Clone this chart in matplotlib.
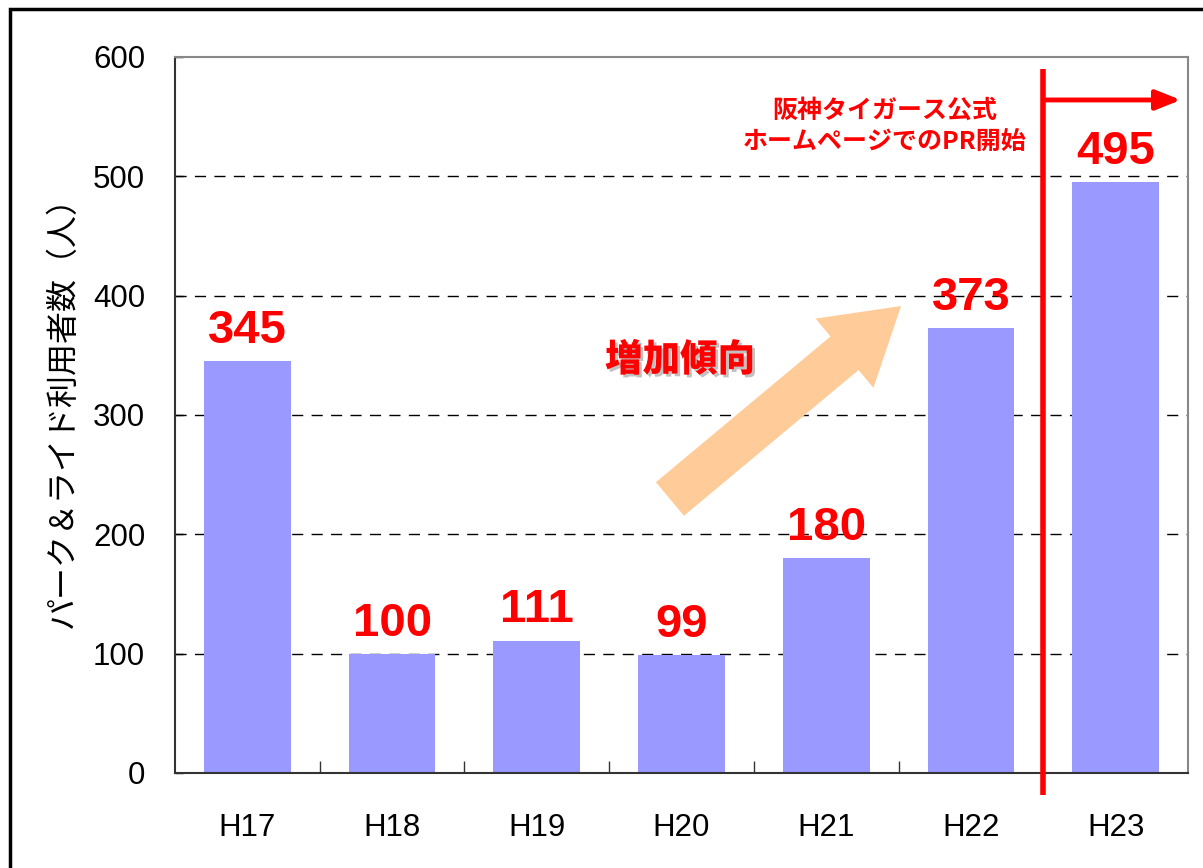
"""
パーク＆ライド利用者数の推移グラフ
"""

import matplotlib
matplotlib.use("Agg")
import matplotlib.pyplot as plt
import matplotlib.patheffects as pe
from matplotlib.patches import FancyArrowPatch, Rectangle

plt.rcParams["font.family"] = ["Liberation Sans", "Noto Sans CJK JP", "DejaVu Sans"]

# データ
years = ["H17", "H18", "H19", "H20", "H21", "H22", "H23"]
users = [345, 100, 111, 99, 180, 373, 495]
y_ticks = [0, 100, 200, 300, 400, 500, 600]

ylabel_text = "パーク＆ライド利用者数（人）"
pr_text = "阪神タイガース公式\nホームページでのPR開始"
trend_text = "増加傾向"

fig = plt.figure(figsize=(12.03, 8.68), dpi=100)
ax = fig.add_axes([175 / 1203, 1 - 773 / 868, 1013 / 1203, 716 / 868])

x = list(range(len(years)))
ax.bar(x, users, width=0.6, color="#9999FF", zorder=2)

ax.set_xlim(-0.5, len(years) - 0.5)
ax.set_ylim(0, 600)
ax.set_yticks(y_ticks)
ax.set_xticks(x)
ax.set_xticklabels(years)
ax.set_xticks([i + 0.5 for i in x[:-1]], minor=True)
ax.tick_params(axis="x", which="major", length=0, pad=29, labelsize=22.5)
ax.tick_params(axis="x", which="minor", direction="in", length=9, width=1, color="#333333")
ax.tick_params(axis="y", direction="in", length=6, width=1, pad=21.5, labelsize=22.5)

# グリッド (破線)
for v in y_ticks[1:-1]:
    ax.axhline(v, color="black", lw=1, ls=(0, (8, 6)), zorder=1)

for side in ["top", "right"]:
    ax.spines[side].set_color("#888888")
    ax.spines[side].set_linewidth(1.5)
for side in ["left", "bottom"]:
    ax.spines[side].set_color("#333333")
    ax.spines[side].set_linewidth(1.5)

ax.set_ylabel(ylabel_text, fontsize=23)
ax.yaxis.set_label_coords(-0.095, 0.515)

# 数値ラベル
for xi, v in zip(x, users):
    ax.annotate(str(v), (xi, v), xytext=(0, 13), textcoords="offset points",
                ha="center", va="baseline", color="red", fontsize=34,
                fontweight="bold")

# PR開始の縦線と矢印
ax.plot([5.5, 5.5], [-18.5, 590], color="red", lw=4, clip_on=False, zorder=4,
        solid_capstyle="butt")
ax.annotate("", xy=(6.45, 564), xytext=(5.5, 564),
            arrowprops=dict(arrowstyle="-|>,head_length=0.75,head_width=0.3",
                            color="red", lw=3.5, shrinkA=0, shrinkB=0,
                            mutation_scale=20),
            annotation_clip=False, zorder=4)
ax.text(4.405, 542, pr_text, ha="center", va="center", color="red",
        fontsize=18, fontweight="bold", linespacing=1.35,
        family=["Noto Sans CJK JP", "DejaVu Sans"])

# 増加傾向の矢印
trend_arrow = FancyArrowPatch((2.92, 229.6), (4.517, 391.3),
                              arrowstyle="simple,head_length=53,head_width=65,tail_width=31.5",
                              mutation_scale=1, color="#FFCC99", lw=0,
                              shrinkA=0, shrinkB=0, zorder=3)
ax.add_patch(trend_arrow)
ax.text(2.99, 346, trend_text, ha="center", va="center", color="red",
        fontsize=27, fontweight="black", family=["Noto Sans CJK JP", "DejaVu Sans"],
        path_effects=[pe.withSimplePatchShadow(offset=(2, -2), shadow_rgbFace="#999999", alpha=0.6)])

# 外枠
fig.patches.append(Rectangle((10 / 1203, -0.1), 1.2, 1 - 9 / 868 + 0.1,
                             transform=fig.transFigure, fill=False,
                             edgecolor="black", lw=2.5))

plt.savefig("out.png", dpi=100)
